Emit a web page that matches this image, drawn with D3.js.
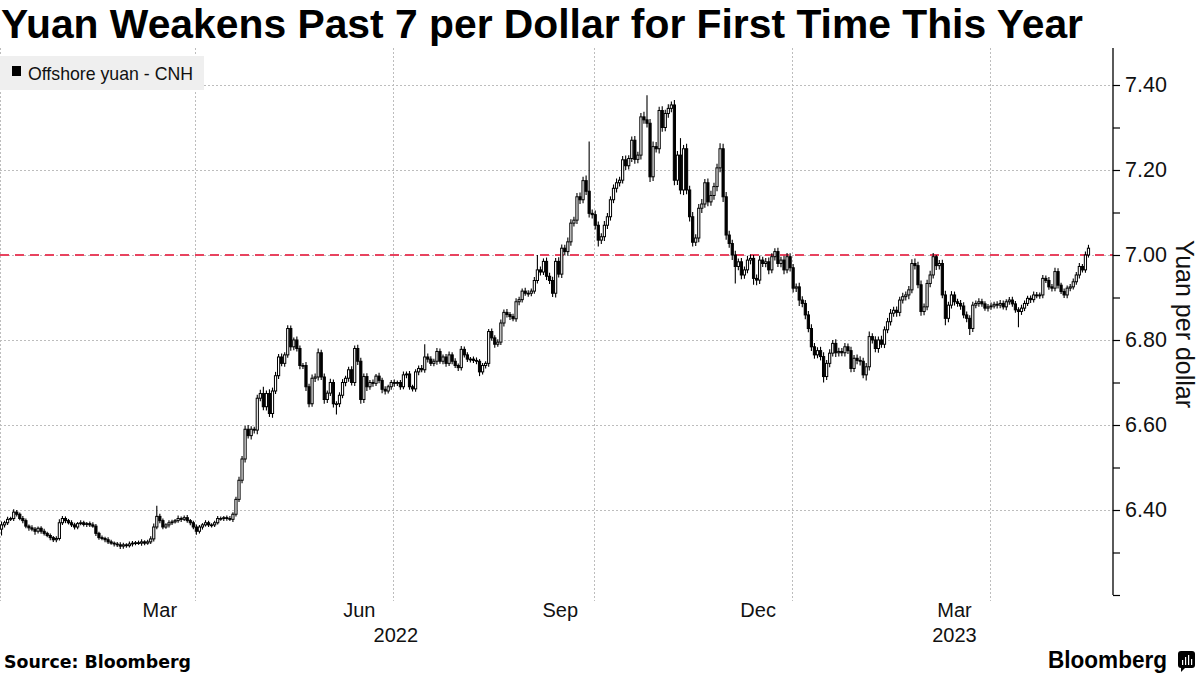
<!DOCTYPE html>
<html><head><meta charset="utf-8">
<script src="https://cdn.jsdelivr.net/npm/d3@7"></script>
<style>body{margin:0;background:#fff}svg{display:block}</style>
</head><body>
<svg id="chart" width="1200" height="675"></svg>
<script>
// ---- DATA (USD/CNH daily candles, 2022-01-03 .. 2023-05-17, weekdays) ----
const startDate = "2022-01-03";
const endDate = "2023-05-17";
const firstOpen = 6.355;
// daily closes (open of each day = previous close)
const closes = [
6.365,6.370,6.378,6.380,6.395,6.390,6.380,6.375,6.362,6.358,6.355,6.350,6.357,6.350,6.345,6.340,6.335,6.330,6.333,6.370,
6.380,6.375,6.370,6.365,6.360,6.368,6.370,6.366,6.368,6.365,6.362,6.345,6.335,6.333,6.330,6.325,6.322,6.320,6.318,6.315,
6.318,6.316,6.320,6.322,6.323,6.322,6.325,6.322,6.325,6.332,6.360,6.385,6.375,6.360,6.365,6.370,6.372,6.375,6.380,6.378,
6.382,6.375,6.370,6.360,6.350,6.360,6.365,6.370,6.365,6.365,6.370,6.380,6.380,6.382,6.380,6.378,6.390,6.425,6.470,6.520,
6.590,6.575,6.590,6.588,6.663,6.674,6.643,6.674,6.627,6.680,6.716,6.760,6.745,6.765,6.827,6.784,6.800,6.780,6.740,6.740,
6.690,6.650,6.710,6.713,6.770,6.713,6.660,6.675,6.700,6.650,6.650,6.670,6.700,6.710,6.730,6.700,6.780,6.750,6.660,6.714,
6.690,6.700,6.698,6.715,6.705,6.684,6.680,6.690,6.700,6.698,6.700,6.690,6.718,6.720,6.690,6.685,6.725,6.733,6.730,6.760,
6.755,6.745,6.750,6.773,6.750,6.760,6.745,6.765,6.750,6.740,6.735,6.778,6.765,6.755,6.755,6.752,6.750,6.725,6.740,6.745,
6.820,6.805,6.790,6.795,6.840,6.865,6.860,6.855,6.850,6.890,6.895,6.915,6.910,6.910,6.915,6.940,6.965,6.960,6.985,6.950,
6.940,6.910,6.985,6.955,7.016,7.008,7.031,7.075,7.082,7.137,7.130,7.175,7.150,7.098,7.095,7.070,7.035,7.043,7.070,7.090,
7.130,7.157,7.170,7.176,7.224,7.210,7.227,7.270,7.225,7.235,7.325,7.318,7.310,7.184,7.255,7.250,7.340,7.300,7.333,7.345,
7.353,7.176,7.235,7.153,7.250,7.153,7.090,7.030,7.040,7.110,7.120,7.170,7.125,7.140,7.161,7.205,7.250,7.137,7.047,7.027,
7.000,6.973,6.984,6.953,6.965,6.988,6.992,6.945,6.941,6.988,6.980,6.984,6.965,6.996,7.008,6.980,6.988,6.965,6.996,6.970,
6.922,6.925,6.894,6.886,6.859,6.827,6.784,6.765,6.775,6.761,6.714,6.745,6.769,6.792,6.770,6.773,6.770,6.784,6.775,6.733,
6.757,6.752,6.750,6.718,6.737,6.808,6.800,6.780,6.800,6.790,6.824,6.843,6.863,6.870,6.865,6.894,6.902,6.906,6.918,6.980,
6.975,6.930,6.867,6.878,6.933,6.953,6.996,6.975,6.980,6.906,6.851,6.882,6.906,6.890,6.886,6.880,6.859,6.851,6.827,6.882,
6.886,6.890,6.885,6.875,6.878,6.880,6.884,6.882,6.886,6.878,6.890,6.894,6.885,6.871,6.867,6.875,6.886,6.898,6.895,6.906,
6.904,6.906,6.945,6.940,6.925,6.922,6.961,6.929,6.914,6.906,6.922,6.925,6.937,6.953,6.973,6.965,7.000,7.016
];
// wick extents beyond the body, in thousandths of a yuan
const upperWick = [
8,5,6,4,7,5,4,6,5,4,6,5,4,5,6,4,5,4,5,8,
6,5,4,6,5,4,6,5,4,5,6,5,4,5,4,6,5,4,5,6,
5,4,6,5,4,5,6,4,5,6,8,25,6,5,4,6,5,4,7,5,
5,6,4,5,6,5,4,6,5,4,5,6,5,4,5,6,5,6,8,7,
8,10,7,6,8,9,16,7,10,8,9,7,8,6,8,7,6,8,7,6,
8,7,9,8,10,7,8,6,9,7,6,7,8,6,7,8,7,9,8,7,
8,6,7,5,8,6,7,5,6,7,5,6,8,6,7,5,6,7,8,30,
8,7,6,8,7,6,7,8,6,7,5,8,7,6,5,6,7,5,6,5,
6,7,6,7,8,7,8,6,7,8,7,6,8,7,6,8,35,8,7,9,
8,9,8,10,9,8,10,9,8,9,10,9,12,117,9,10,9,8,10,9,
8,9,10,8,9,10,8,9,10,8,9,12,58,10,12,11,9,10,9,10,
8,12,10,40,9,12,10,11,9,10,12,9,10,11,9,10,13,12,11,10,
9,10,8,9,8,10,9,8,9,10,8,9,10,8,8,9,8,10,9,8,
9,8,10,9,8,9,10,9,8,9,10,8,9,8,10,9,8,9,8,9,
8,9,10,8,9,12,8,9,8,10,8,9,10,8,9,8,9,8,9,10,
12,9,10,8,9,10,9,4,8,9,10,8,9,8,7,8,9,8,7,8,
7,8,7,6,7,8,6,7,8,7,6,7,8,7,6,8,7,6,7,8,
7,6,8,7,8,7,9,8,6,7,6,7,8,7,8,6,8,8
];
const lowerWick = [
15,6,5,4,6,5,4,6,5,7,5,8,5,6,5,4,6,5,6,5,
5,6,4,5,6,5,4,5,6,5,4,6,5,4,6,5,4,6,5,7,
6,5,4,6,5,4,6,5,4,5,6,5,6,5,4,6,5,4,5,6,
4,5,6,5,8,5,6,4,5,6,5,4,5,6,5,4,6,5,6,7,
8,7,9,8,10,7,8,9,8,10,7,8,7,8,7,9,8,7,9,8,
10,8,7,9,8,7,10,8,7,9,25,8,7,9,8,7,8,9,10,8,
10,7,8,6,7,9,8,6,7,8,6,7,6,8,7,6,7,8,6,7,
8,6,7,8,6,7,8,6,7,6,8,7,6,7,8,6,7,10,6,7,
8,7,8,6,7,8,7,8,6,7,8,7,6,8,7,6,7,8,7,9,
8,9,10,8,9,8,10,9,8,9,10,8,9,10,9,10,15,9,10,9,
9,8,10,9,8,10,9,8,10,9,10,9,10,12,10,9,11,10,9,10,
9,12,11,10,12,10,11,10,9,10,11,9,10,9,10,11,10,12,11,10,
12,40,9,10,9,8,10,15,12,9,8,9,10,8,9,8,9,10,8,9,
10,9,14,9,10,9,10,9,8,9,14,8,9,8,10,9,8,9,8,9,
8,9,10,8,13,9,8,9,10,8,9,8,9,8,10,9,8,9,10,8,
9,8,10,9,8,9,8,10,9,8,16,9,8,9,8,9,8,9,15,8,
7,8,7,6,8,7,6,8,7,6,8,7,7,7,37,8,7,6,8,7,
6,7,8,6,7,8,7,8,6,7,8,7,6,7,8,6,7,6
];
const yTickValues = [6.4, 6.6, 6.8, 7.0, 7.2, 7.4];
const yMinorValues = [6.2, 6.3, 6.5, 6.7, 6.9, 7.1, 7.3];
const monthLabelNames = ["Mar", "Jun", "Sep", "Dec"];
const yearLabels = ["2022", "2023"];
const referenceLevel = 7.0;
const yDomain = [6.2, 7.48];

// ---- build trading days (weekdays) ----
const parse = d3.utcParse("%Y-%m-%d");
const dates = d3.utcDays(parse(startDate), d3.utcDay.offset(parse(endDate), 1))
  .filter(d => d.getUTCDay() !== 0 && d.getUTCDay() !== 6);

const candles = closes.map((c, i) => {
  const o = i === 0 ? firstOpen : closes[i - 1];
  return { i, date: dates[i], open: o, close: c,
    high: Math.max(o, c) + upperWick[i] / 1000,
    low: Math.min(o, c) - lowerWick[i] / 1000 };
});

// ---- layout ----
const svg = d3.select("#chart");
const plotLeft = 0, plotRight = 1090, axisX = 1113, plotTop = 51, plotBottom = 595;
const x = d3.scaleBand().domain(d3.range(candles.length)).range([plotLeft, plotRight]).padding(0);
const y = d3.scaleLinear().domain(yDomain).range([plotBottom, plotTop]);
const step = x.step();

svg.append("rect").attr("width", 1200).attr("height", 675).attr("fill", "#fff");

// gridlines
const grid = svg.append("g").attr("stroke", "#bdbdbd").attr("stroke-width", 1).attr("stroke-dasharray", "2,2");
grid.selectAll("line.h").data(yTickValues).join("line")
  .attr("x1", 0).attr("x2", axisX).attr("y1", d => Math.round(y(d)) + 0.5).attr("y2", d => Math.round(y(d)) + 0.5);

// quarter boundaries
const quarterStarts = candles.filter((d, i) => i === 0 ||
  (d.date.getUTCMonth() % 3 === 0 && d.date.getUTCMonth() !== candles[i - 1].date.getUTCMonth()));
grid.selectAll("line.v").data(quarterStarts).join("line")
  .attr("x1", d => Math.round(x(d.i)) + 0.5).attr("x2", d => Math.round(x(d.i)) + 0.5)
  .attr("y1", plotTop - 3).attr("y2", plotBottom + 6);

// legend
svg.append("rect").attr("x", 0).attr("y", 56).attr("width", 204).attr("height", 34).attr("fill", "#efefef");
svg.append("rect").attr("x", 12).attr("y", 66).attr("width", 9).attr("height", 10).attr("fill", "#000");
svg.append("text").attr("x", 28).attr("y", 79.5).text("Offshore yuan - CNH")
  .attr("font-family", "'Liberation Sans',Arial,sans-serif").attr("font-size", 18.5)
  .attr("textLength", 165).attr("lengthAdjust", "spacingAndGlyphs").attr("fill", "#111");

// reference line at 7.00
svg.append("line").attr("x1", 0).attr("x2", axisX).attr("y1", y(referenceLevel)).attr("y2", y(referenceLevel))
  .attr("stroke", "#e8435f").attr("stroke-width", 2).attr("stroke-dasharray", "9,6");

// candles
const cg = svg.append("g");
cg.selectAll("line").data(candles).join("line")
  .attr("x1", d => x(d.i) + step / 2).attr("x2", d => x(d.i) + step / 2)
  .attr("y1", d => y(d.high)).attr("y2", d => y(d.low))
  .attr("stroke", "#000").attr("stroke-width", 1.1);
const bw = 2.2;
cg.selectAll("rect").data(candles).join("rect")
  .attr("x", d => x(d.i) + step / 2 - bw / 2).attr("width", bw)
  .attr("y", d => y(Math.max(d.open, d.close)))
  .attr("height", d => Math.max(0.8, Math.abs(y(d.open) - y(d.close))))
  .attr("fill", d => d.close >= d.open ? "#fff" : "#000")
  .attr("stroke", "#000").attr("stroke-width", 1);

// right y axis
const axisG = svg.append("g").attr("transform", `translate(${axisX},0)`);
axisG.call(d3.axisRight(y).tickValues(yTickValues).tickFormat(d3.format(".2f")).tickSize(7).tickPadding(5))
  .call(g => g.select(".domain").attr("d", `M0,${plotTop - 3}V${plotBottom}`).attr("stroke", "#000").attr("stroke-width", 1.3))
  .call(g => g.selectAll(".tick line").attr("stroke", "#000").attr("stroke-width", 1.2))
  .call(g => g.selectAll(".tick text").attr("font-family", "'Liberation Sans',Arial,sans-serif").attr("font-size", 21.5).attr("fill", "#111"));
axisG.selectAll("line.minor").data(yMinorValues).join("line")
  .attr("x1", 0).attr("x2", 7).attr("y1", d => y(d) + 0.5).attr("y2", d => y(d) + 0.5)
  .attr("stroke", "#000").attr("stroke-width", 1.2);

svg.append("text").attr("transform", "translate(1176,324) rotate(90)").attr("text-anchor", "middle")
  .text("Yuan per dollar").attr("font-family", "'Liberation Sans',Arial,sans-serif").attr("font-size", 25).attr("fill", "#111");

// x axis month labels (centred under each labelled month)
const monthFmt = d3.utcFormat("%b");
const monthGroups = d3.groups(candles, d => d3.utcFormat("%Y-%m")(d.date))
  .filter(([k, arr]) => monthLabelNames.includes(monthFmt(arr[0].date)));
svg.append("g").selectAll("text").data(monthGroups).join("text")
  .attr("x", ([k, arr]) => (x(arr[0].i) + x(arr[arr.length - 1].i) + step) / 2)
  .attr("y", 617).attr("text-anchor", "middle").text(([k, arr]) => monthFmt(arr[0].date))
  .attr("font-family", "'Liberation Sans',Arial,sans-serif").attr("font-size", 20).attr("fill", "#111");

// year labels: full year centred on the year, partial year under its last labelled month
const yearPos = yearLabels.map(yr => {
  const inYear = candles.filter(d => String(d.date.getUTCFullYear()) === yr);
  const lastDay = candles[candles.length - 1].date;
  const full = d3.utcYear.offset(parse(yr + "-01-01"), 1) <= lastDay;
  if (full) return { yr, x: (x(inYear[0].i) + x(inYear[inYear.length - 1].i) + step) / 2 };
  const mg = monthGroups.filter(([k]) => k.startsWith(yr));
  const arr = mg[mg.length - 1][1];
  return { yr, x: (x(arr[0].i) + x(arr[arr.length - 1].i) + step) / 2 };
});
svg.append("g").selectAll("text").data(yearPos).join("text")
  .attr("x", d => d.x).attr("y", 642).attr("text-anchor", "middle").text(d => d.yr)
  .attr("font-family", "'Liberation Sans',Arial,sans-serif").attr("font-size", 20).attr("fill", "#111");

// title
svg.append("text").attr("x", 1).attr("y", 38).text("Yuan Weakens Past 7 per Dollar for First Time This Year")
  .attr("font-family", "'Liberation Sans',Arial,sans-serif").attr("font-weight", "bold").attr("font-size", 40)
  .attr("textLength", 1082).attr("lengthAdjust", "spacingAndGlyphs").attr("fill", "#000");

// footer
svg.append("text").attr("x", 4).attr("y", 668).text("Source: Bloomberg")
  .attr("font-family", "'DejaVu Sans',sans-serif").attr("font-weight", "bold").attr("font-size", 17)
  .attr("textLength", 187).attr("lengthAdjust", "spacingAndGlyphs").attr("fill", "#000");
svg.append("text").attr("x", 1048).attr("y", 668).text("Bloomberg")
  .attr("font-family", "'Liberation Sans',Arial,sans-serif").attr("font-weight", "bold").attr("font-size", 23)
  .attr("textLength", 119).attr("lengthAdjust", "spacingAndGlyphs").attr("fill", "#000");
const logo = svg.append("g").attr("transform", "translate(1178,651)");
logo.append("rect").attr("width", 17).attr("height", 17).attr("rx", 3).attr("fill", "#000");
logo.append("path").attr("d", "M3,16 L3,21 L8,16 Z").attr("fill", "#000");
[[4,9,2,5],[7,6,2,8],[10,4,2,10],[13,8,2,6]].forEach(b =>
  logo.append("rect").attr("x", b[0]).attr("y", b[1]).attr("width", b[2] - 0.8).attr("height", b[3]).attr("fill", "#fff"));
</script>
</body></html>
